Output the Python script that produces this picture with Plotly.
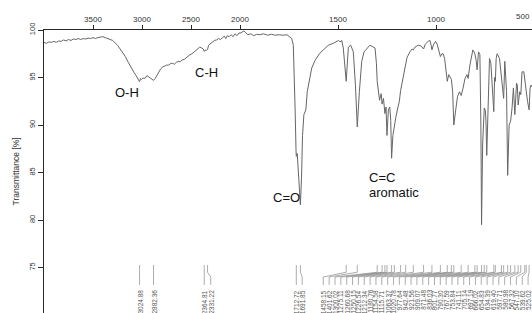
import plotly.graph_objects as go

# ---------------- data ----------------
wavenumber = [
    4000, 3975, 3950, 3925, 3900, 3875, 3850, 3825, 3800, 3775, 3750, 3725, 3700, 3675,
    3650, 3625, 3600, 3575, 3550, 3525, 3500, 3475, 3450, 3425, 3400, 3375, 3350, 3300,
    3250, 3200, 3170, 3140, 3110, 3080, 3060, 3040, 3024.88, 3015, 3005, 2990, 2970, 2950,
    2935, 2915, 2895, 2882.36, 2865, 2850, 2830, 2810, 2790, 2770, 2750, 2730, 2710, 2690,
    2670, 2650, 2630, 2610, 2590, 2570, 2550, 2530, 2510, 2490, 2470, 2450, 2430, 2410,
    2390, 2375, 2364.81, 2355, 2345, 2331.22, 2320, 2300, 2280, 2260, 2240, 2220, 2200,
    2180, 2160, 2145, 2130, 2110, 2090, 2070, 2050, 2030, 2010, 2000, 1990, 1980, 1970,
    1960, 1945, 1930, 1915, 1900, 1880, 1860, 1840, 1820, 1800, 1780, 1760, 1745, 1736,
    1728, 1724, 1719, 1714, 1712.72, 1708, 1703, 1696, 1691.85, 1686, 1681, 1674, 1664,
    1657, 1646, 1634, 1617, 1595, 1575, 1549, 1524, 1498, 1490, 1481, 1473, 1465, 1458.15,
    1453, 1447, 1435, 1422, 1411, 1401.62, 1391, 1379, 1367, 1337, 1311, 1304, 1300.02,
    1296, 1288, 1280, 1275.11, 1268, 1260.68, 1255, 1250.15, 1243, 1236, 1231, 1226.54,
    1220, 1212.34, 1205, 1195, 1187, 1180.76, 1172, 1162, 1154.58, 1148, 1133, 1122,
    1115.71, 1107, 1090, 1075, 1063.37, 1055, 1040, 1031, 1025, 1020.78, 1012, 1002, 994,
    985, 977.64, 970, 964, 956, 948, 942.48, 935, 928, 921.56, 915, 909.07, 900, 890, 880,
    871.48, 864, 852, 842, 836.03, 827, 812, 806, 801.77, 795, 790.30, 783, 776, 771,
    767.59, 762, 758, 753.84, 748, 745, 741.11, 735, 727, 720, 712, 705.14, 701, 697.19,
    693, 688, 676, 666.02, 654.83, 649, 640, 634.39, 627, 619.40, 612, 605, 597.71, 589,
    585, 580.98, 573, 567.32, 561, 552, 547.10, 539.62, 533, 525.02, 520, 515, 510,
]
transmittance = [
    98.7, 98.6, 98.75, 98.7, 98.8, 98.7, 98.85, 98.8, 98.95, 98.85, 99.0, 98.9, 99.05, 99.0,
    99.1, 99.0, 99.1, 99.05, 99.15, 99.1, 99.2, 99.1, 99.2, 99.25, 99.3, 99.2, 99.1, 98.9,
    98.4, 97.7, 97.2, 96.6, 96.0, 95.5, 95.2, 94.9, 94.55, 94.9, 94.8, 94.95, 94.9, 95.2,
    95.1, 94.9, 94.75, 94.7, 94.9, 95.2, 95.6, 95.9, 96.1, 96.2, 96.3, 96.3, 96.45, 96.5,
    96.4, 96.6, 96.7, 96.65, 96.85, 96.9, 97.1, 97.2, 97.4, 97.5, 97.7, 97.8, 98.0, 98.2,
    98.1, 98.0, 97.75, 97.9, 97.85, 97.95, 98.4, 98.6, 98.8, 98.9, 98.95, 99.1, 99.0,
    99.2, 99.35, 99.1, 99.4, 99.3, 99.5, 99.3, 99.6, 99.4, 99.7, 99.65, 99.75, 99.9, 99.7,
    99.5, 99.6, 99.4, 99.55, 99.5, 99.6, 99.45, 99.55, 99.45, 99.5, 99.45, 99.5, 99.3, 99.1,
    98.4, 96.3, 91.8, 87.2, 86.7, 87.0, 85.1, 82.5, 81.6, 84.5, 88.9, 91.1, 91.6,
    93.5, 94.9, 96.0, 96.8, 97.5, 97.9, 98.4, 98.6, 98.9, 98.75, 98.9, 98.1, 96.3, 94.6,
    96.3, 98.2, 98.4, 97.7, 94.2, 89.8, 93.5, 96.7, 97.7, 98.4, 98.1, 96.5, 94.6,
    93.8, 92.6, 93.3, 92.2, 92.8, 91.2, 91.9, 88.9, 91.6, 91.9, 90.5, 86.5,
    88.9, 90.0, 90.8, 91.8, 92.5, 93.6, 94.5, 95.6, 96.6, 97.1, 97.7, 98.0,
    97.9, 98.2, 98.4, 98.3, 98.0, 98.5, 98.8, 98.9, 98.4, 97.9, 98.5, 98.8, 98.5,
    97.6, 97.2, 97.5, 97.5, 97.0, 95.8, 94.6, 95.3, 95.1, 94.8, 93.5, 90.0, 91.5, 93.0, 93.5,
    93.1, 93.7, 94.9, 95.3, 94.9, 96.3, 97.9, 97.7, 97.5, 96.8, 95.8, 97.7, 97.4, 90.0,
    79.5, 88.0, 90.5, 91.8, 91.5, 90.4, 86.8, 91.8, 97.0, 96.5, 94.0, 91.4, 95.0, 94.6,
    97.0, 97.5, 97.0, 94.9, 92.8, 96.7, 93.5, 84.7, 90.0, 90.4, 91.8, 93.9, 91.1, 94.4,
    94.2, 92.1, 93.5, 93.2, 95.6, 95.6, 94.6, 93.5, 92.5, 91.6, 93.9, 94.2, 94.0,
]

# peak picks, grouped as printed under the spectrum
peaks_oh = [3024.88, 2882.36]
peaks_co2 = [2364.81, 2331.22]
peaks_co = [1712.72, 1691.85]
peaks_fp = [1458.15, 1401.62, 1300.02, 1275.11, 1260.68, 1250.15, 1226.54, 1212.34,
            1180.76, 1154.58, 1115.71, 1063.37, 1020.78, 977.64, 942.48, 921.56,
            909.07, 871.48, 836.03, 801.77, 790.30, 767.59, 753.84, 741.11, 705.14,
            697.19, 666.02, 654.83, 634.39, 619.40, 597.71, 580.98, 567.32, 547.10,
            539.62, 525.02]

band_labels = ["O-H", "C-H", "C=O"]
band_wn = [3158, 2342, 1765]
band_t = [93.4, 95.5, 82.4]
band_axis = ["x", "x", "x2"]

x_ticks_hi = [3500, 3000, 2500, 2000]
x_ticks_lo = [1500, 1000]
y_ticks = [75, 80, 85, 90, 95, 100]

# ---------------- figure ----------------
LINE = "#666666"
AX = "#2a2a2a"
FONT = "Liberation Sans, Arial, sans-serif"
split = 196 / 488

hi_x = [w for w in wavenumber if w >= 2000]
hi_y = [t for w, t in zip(wavenumber, transmittance) if w >= 2000]
lo_x = [w for w in wavenumber if w <= 2000]
lo_y = [t for w, t in zip(wavenumber, transmittance) if w <= 2000]

fig = go.Figure()
fig.add_trace(go.Scatter(x=hi_x, y=hi_y, mode="lines", xaxis="x", yaxis="y",
                         line=dict(color=LINE, width=1), hoverinfo="skip", showlegend=False))
fig.add_trace(go.Scatter(x=lo_x, y=lo_y, mode="lines", xaxis="x2", yaxis="y",
                         line=dict(color=LINE, width=1), hoverinfo="skip", showlegend=False))

# leader lines + peak labels
Y_TOP, Y_B1, Y_B2, Y_BOT, Y_LBL = 75.26, 74.5, 74.0, 73.16, 72.84
groups = [
    ("x", peaks_oh, None, 0),
    ("x", peaks_co2, peaks_co2[0], 66),
    ("x2", peaks_co, peaks_co[0], 30),
    ("x2", peaks_fp, 1575, 29.85),
]
annotations = []
for ax, pk, start, step in groups:
    lx, ly = [], []
    for i, p in enumerate(pk):
        lab = p if start is None else start - i * step
        lx += [p, p, lab, lab, None]
        ly += [Y_TOP, Y_B1, Y_B2, Y_BOT, None]
        annotations.append(dict(text=f"{p:.2f}", x=lab, y=Y_LBL, xref=ax, yref="y",
                                xanchor="center", yanchor="top", textangle=-90,
                                showarrow=False, font=dict(size=6.5, color="#555", family=FONT)))
    fig.add_trace(go.Scatter(x=lx, y=ly, mode="lines", xaxis=ax, yaxis="y",
                             line=dict(color="#8a8a8a", width=0.7),
                             hoverinfo="skip", showlegend=False))

for txt, wn, t, ax in zip(band_labels, band_wn, band_t, band_axis):
    annotations.append(dict(text=txt, x=wn, y=t, xref=ax, yref="y", showarrow=False,
                            xanchor="center", yanchor="middle",
                            font=dict(size=13, color="#111", family=FONT)))
annotations.append(dict(text="C=C", x=1350, y=84.5, xref="x2", yref="y", showarrow=False,
                        xanchor="left", yanchor="middle", font=dict(size=13, color="#111", family=FONT)))
annotations.append(dict(text="aromatic", x=1350, y=82.9, xref="x2", yref="y", showarrow=False,
                        xanchor="left", yanchor="middle", font=dict(size=13, color="#111", family=FONT)))

# axis title and the edge tick label
annotations.append(dict(text="Transmittance [%]", x=(15 - 44) / 488, y=0.5, xref="paper", yref="paper",
                        showarrow=False, textangle=-90, xanchor="center", yanchor="middle",
                        font=dict(size=8.5, color="#333", family=FONT)))
annotations.append(dict(text="500", x=1, y=1 + 14 / 283, xref="paper", yref="paper",
                        showarrow=False, xanchor="right", yanchor="middle",
                        font=dict(size=8, color="#333", family=FONT)))

axis_common = dict(showgrid=False, zeroline=False, showline=True, linecolor=AX, linewidth=1,
                   ticks="outside", ticklen=4, tickcolor=AX, automargin=False,
                   tickfont=dict(size=8, color="#333", family=FONT))

fig.update_layout(
    width=532, height=313, autosize=False,
    margin=dict(l=44, r=0, t=30, b=0, pad=0),
    paper_bgcolor="white", plot_bgcolor="white",
    showlegend=False,
    xaxis=dict(axis_common, domain=[0, split], range=[4000, 2000], side="top", anchor="y",
               tickvals=x_ticks_hi),
    xaxis2=dict(axis_common, domain=[split, 1], range=[2000, 2000 - 292 / 0.196], side="top",
                anchor="y", tickvals=x_ticks_lo),
    yaxis=dict(axis_common, range=[100 - 283 / 9.5, 100], tickvals=y_ticks, tickangle=-90,
               anchor="x", ticklen=5, tickfont=dict(size=7.5, color="#333", family=FONT)),
    annotations=annotations,
)

fig.write_html("out.html", include_plotlyjs=True, config={"displayModeBar": False},
               post_script="document.body.style.margin='0px';document.body.style.overflow='hidden';")
